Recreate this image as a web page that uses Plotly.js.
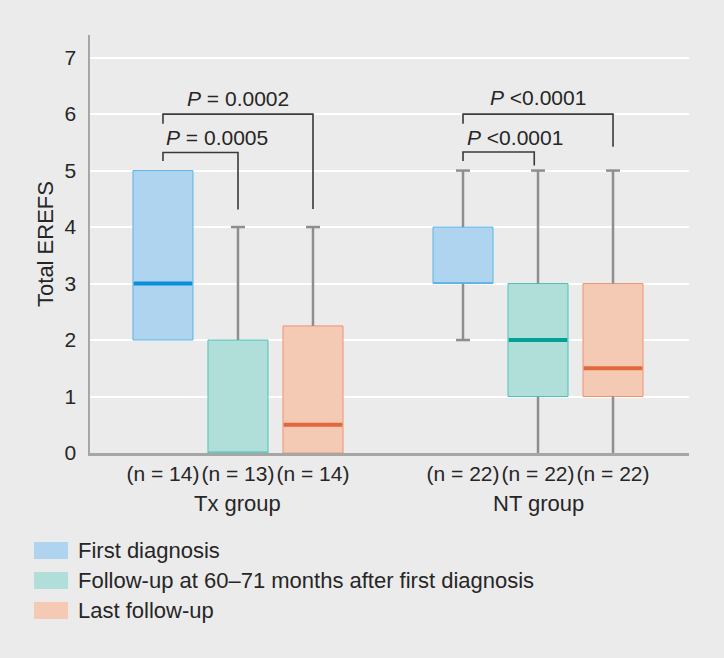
<!DOCTYPE html>
<html>
<head>
<meta charset="utf-8">
<script src="https://cdn.plot.ly/plotly-3.0.1.min.js"></script>
<style>html,body{margin:0;padding:0;background:#ebebeb;}#chart{width:724px;height:658px;}</style>
</head>
<body>
<div id="chart"></div>
<script>
// ---------- data ----------
const groups = ['Tx group', 'NT group'];
const nLabels = ['(n = 14)', '(n = 13)', '(n = 14)', '(n = 22)', '(n = 22)', '(n = 22)'];
const seriesNames = ['First diagnosis', 'Follow-up at 60–71 months after first diagnosis', 'Last follow-up'];

// values per group [Tx, NT]
const firstLow = [2, 2],  firstQ1 = [2, 3], firstMed = [3, 3],   firstQ3 = [5, 4],    firstHigh = [5, 5];
const fuLow    = [0, 0],  fuQ1    = [0, 1], fuMed    = [0, 2],   fuQ3    = [2, 3],    fuHigh    = [4, 5];
const lastLow  = [0, 0],  lastQ1  = [0, 1], lastMed  = [0.5, 1.5], lastQ3 = [2.25, 3], lastHigh = [4, 5];

const pLabels = ['<i>P</i> = 0.0005', '<i>P</i> = 0.0002', '<i>P</i> <0.0001', '<i>P</i> <0.0001'];
const bracketFrom = [0, 0, 3, 3];
const bracketTo = [1, 2, 4, 5];

// ---------- styling ----------
const fills = ['#aed4f0', '#b0dfda', '#f5cab4'];
const outlines = ['#5db4e6', '#4cc2b6', '#ec9472'];
const medColors = ['#0a8fd8', '#00a293', '#e2683c'];
const whiskerColor = '#8e8e8e';
const textColor = '#262626';
const FONT = 'Liberation Sans, Arial, sans-serif';

const groupPos = [0, 4];
const stats = [
  {low: firstLow, q1: firstQ1, med: firstMed, q3: firstQ3, high: firstHigh},
  {low: fuLow, q1: fuQ1, med: fuMed, q3: fuQ3, high: fuHigh},
  {low: lastLow, q1: lastQ1, med: lastMed, q3: lastQ3, high: lastHigh}
];
const boxHalf = 0.4, capHalf = 0.093;

const traces = [];
stats.forEach((s, i) => {
  const xs = groupPos.map(g => g + i);
  // box body
  traces.push({
    type: 'box', x: xs, q1: s.q1, median: s.med, q3: s.q3,
    lowerfence: s.q1, upperfence: s.q3, width: boxHalf * 2,
    fillcolor: fills[i], line: {color: outlines[i], width: 1},
    whiskerwidth: 0, showlegend: false, hoverinfo: 'skip', name: seriesNames[i]
  });
  // whiskers (caps sitting on the x axis are hidden by it, as in the original)
  const wx = [], wy = [];
  xs.forEach((x, k) => {
    if (s.low[k] < s.q1[k]) {
      wx.push(x, x, null);
      wy.push(s.q1[k], s.low[k], null);
      if (s.low[k] > 0) {
        wx.push(x - capHalf, x + capHalf, null);
        wy.push(s.low[k], s.low[k], null);
      }
    }
    if (s.high[k] > s.q3[k]) {
      wx.push(x, x, null, x - capHalf, x + capHalf, null);
      wy.push(s.q3[k], s.high[k], null, s.high[k], s.high[k], null);
    }
  });
  traces.push({type: 'scatter', mode: 'lines', x: wx, y: wy, line: {color: whiskerColor, width: 2.5},
    showlegend: false, hoverinfo: 'skip'});
  // medians (only where distinct from the box edges)
  const mx = [], my = [];
  xs.forEach((x, k) => {
    if (s.med[k] > s.q1[k] && s.med[k] < s.q3[k]) {
      mx.push(x - boxHalf + 0.01, x + boxHalf - 0.01, null);
      my.push(s.med[k], s.med[k], null);
    }
  });
  traces.push({type: 'scatter', mode: 'lines', x: mx, y: my, line: {color: medColors[i], width: 4},
    showlegend: false, hoverinfo: 'skip'});
});

// ---------- brackets ----------
const allPos = [];
groupPos.forEach(g => stats.forEach((s, i) => allPos.push(g + i)));
const bracketTop = [5.32, 6.0, 5.33, 6.0];
const legL = [5.17, 5.83, 5.17, 5.83];
const legR = [4.31, 4.32, 5.09, 5.42];
const textY = [5.58, 6.28, 5.58, 6.29];
const shapes = [], annotations = [];
bracketFrom.forEach((f, k) => {
  const x1 = allPos[f], x2 = allPos[bracketTo[k]] - (k === 2 ? 0.05 : 0);
  shapes.push({type: 'path', xref: 'x', yref: 'y',
    path: `M${x1},${legL[k]} L${x1},${bracketTop[k]} L${x2},${bracketTop[k]} L${x2},${legR[k]}`,
    line: {color: '#3a3a3a', width: 1.6}});
  const lower = (k % 2 === 0);
  annotations.push({xref: 'x', yref: 'y', x: lower ? x1 + 0.02 : (x1 + x2) / 2, y: textY[k],
    xanchor: lower ? 'left' : 'center', yanchor: 'middle', showarrow: false, text: pLabels[k],
    font: {family: FONT, size: 21, color: textColor}});
});

// group labels
groups.forEach((g, k) => {
  annotations.push({xref: 'x', yref: 'paper', x: groupPos[k] + 1, y: -0.12, yanchor: 'middle',
    showarrow: false, text: g, font: {family: FONT, size: 22, color: textColor}});
});

// custom legend
const plotL = 90, plotW = 599, plotB = 453, plotH = 418;
const px = v => (v - plotL) / plotW, py = v => (plotB - v) / plotH;
seriesNames.forEach((name, i) => {
  const cy = 550.5 + i * 30;
  shapes.push({type: 'rect', xref: 'paper', yref: 'paper', x0: px(34), x1: px(68), y0: py(cy - 8.5), y1: py(cy + 8.5),
    fillcolor: fills[i], line: {width: 0}});
  annotations.push({xref: 'paper', yref: 'paper', x: px(76), y: py(cy), xanchor: 'left', yanchor: 'middle',
    showarrow: false, text: name, font: {family: FONT, size: 22, color: textColor}});
});

const layout = {
  width: 724, height: 658,
  paper_bgcolor: '#ebebeb', plot_bgcolor: '#ebebeb',
  margin: {l: 90, r: 35, t: 35, b: 205},
  showlegend: false,
  font: {family: FONT, size: 22, color: textColor},
  xaxis: {range: [-0.973, 7.013], tickvals: allPos, ticktext: nLabels, showgrid: false, zeroline: false,
    showline: true, linecolor: '#a6a6a6', linewidth: 2.5, ticks: '', tickangle: 0,
    tickfont: {size: 21, color: textColor}, ticklabelstandoff: 0},
  yaxis: {range: [0, 7.4], tickvals: [0, 1, 2, 3, 4, 5, 6, 7], showgrid: true, gridcolor: '#ffffff', gridwidth: 2,
    zeroline: false, showline: true, linecolor: '#a6a6a6', linewidth: 2.5, ticks: '',
    tickfont: {size: 21, color: textColor}, ticklabelstandoff: 7,
    title: {text: 'Total EREFS', font: {size: 22, color: textColor}, standoff: 5}},
  shapes: shapes, annotations: annotations
};

Plotly.newPlot('chart', traces, layout, {displayModeBar: false, staticPlot: true});
</script>
</body>
</html>
